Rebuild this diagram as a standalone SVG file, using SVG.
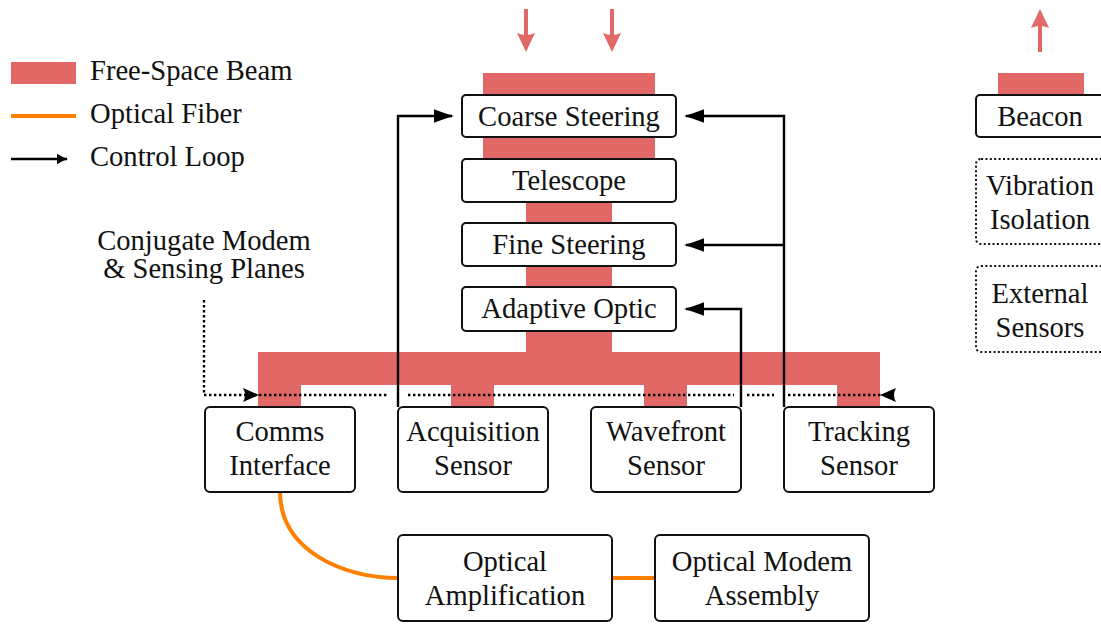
<svg xmlns="http://www.w3.org/2000/svg" width="1101" height="624" viewBox="0 0 1101 624">
<defs>
<style>
text{font-family:"Liberation Serif","Times New Roman",serif;font-size:28.6px;fill:#111;text-anchor:middle}
.leg{text-anchor:start}
.beam{fill:#e26868}
.box{fill:#fff;stroke:#111;stroke-width:2}
.dbox{fill:#fff;stroke:#111;stroke-width:2;stroke-dasharray:2 2.4}
.ctl{fill:none;stroke:#000;stroke-width:2.4}
.dot{fill:none;stroke:#000;stroke-width:2.4;stroke-dasharray:2.4 2.6}
.fiber{fill:none;stroke:#ff8000;stroke-width:4}
.rarr{fill:none;stroke:#e26868;stroke-width:4}
</style>
<marker id="ah" markerUnits="userSpaceOnUse" markerWidth="24" markerHeight="16" viewBox="-22 -8 24 16" refX="0" refY="0" orient="auto">
<path d="M2,0 C-5,-2 -12,-4.5 -18,-6.8 L-18,6.8 C-12,4.5 -5,2 2,0 Z" fill="#000"/>
</marker>
<marker id="ahs" markerUnits="userSpaceOnUse" markerWidth="16" markerHeight="14" viewBox="-14 -7 16 14" refX="0" refY="0" orient="auto">
<path d="M1,0 C-4,-1.5 -7,-3.5 -10,-5.2 L-10,5.2 C-7,3.5 -4,1.5 1,0 Z" fill="#000"/>
</marker>
</defs>

<g id="legend">
<rect class="beam" x="11" y="62" width="65" height="22"/>
<text class="leg" x="90" y="80">Free-Space Beam</text>
<line class="fiber" x1="11" y1="116" x2="76" y2="116"/>
<text class="leg" x="90" y="123">Optical Fiber</text>
<line x1="11" y1="159" x2="67" y2="159" stroke="#000" stroke-width="2.6" marker-end="url(#ahs)"/>
<text class="leg" x="90" y="166">Control Loop</text>
</g>

<g id="beams">
<line class="rarr" x1="526" y1="9" x2="526" y2="36"/>
<path class="beam" d="M526,52 L517,33 Q526,37 535,33 Z"/>
<line class="rarr" x1="612" y1="9" x2="612" y2="36"/>
<path class="beam" d="M612,52 L603,33 Q612,37 621,33 Z"/>
<line class="rarr" x1="1040" y1="52" x2="1040" y2="25"/>
<path class="beam" d="M1040,9 L1031,28 Q1040,24 1049,28 Z"/>
<rect class="beam" x="483" y="73" width="172" height="88"/>
<rect class="beam" x="526" y="200" width="86" height="154"/>
<rect class="beam" x="258" y="352" width="622" height="33"/>
<rect class="beam" x="258" y="384" width="43" height="24"/>
<rect class="beam" x="451" y="384" width="43" height="24"/>
<rect class="beam" x="644" y="384" width="43" height="24"/>
<rect class="beam" x="837" y="384" width="43" height="24"/>
<rect class="beam" x="998" y="73" width="86" height="23"/>
</g>

<g id="conjugate">
<text x="204" y="250">Conjugate Modem</text>
<text x="204" y="278">&amp; Sensing Planes</text>
</g>

<g id="connectors">
<path class="dot" d="M204,300 V395 H388"/>
<path class="dot" d="M408,395 H734"/>
<path class="dot" d="M747,395 H774"/>
<path class="dot" d="M788,395 H882"/>
<path d="M259,395 L243,388 Q247,395 243,402 Z" fill="#000"/>
<path d="M880,395 L896,388 Q892,395 896,402 Z" fill="#000"/>
<path class="ctl" d="M398,407 V116 H452" marker-end="url(#ah)"/>
<path class="ctl" d="M784,407 V116 H686" marker-end="url(#ah)"/>
<path class="ctl" d="M784,245 H686" marker-end="url(#ah)"/>
<path class="ctl" d="M741,407 V309 H686" marker-end="url(#ah)"/>
<path class="fiber" d="M280,492 C280,549 341,578 398,578"/>
<line class="fiber" x1="612" y1="578" x2="655" y2="578"/>
</g>

<g id="coarse"><rect class="box" x="462" y="95" width="214" height="42" rx="4"/><text x="569" y="126">Coarse Steering</text></g>
<g id="telescope"><rect class="box" x="462" y="159" width="214" height="43" rx="4"/><text x="569" y="190">Telescope</text></g>
<g id="fine"><rect class="box" x="462" y="223" width="214" height="43" rx="4"/><text x="569" y="254">Fine Steering</text></g>
<g id="adaptive"><rect class="box" x="462" y="287" width="214" height="44" rx="4"/><text x="569" y="318">Adaptive Optic</text></g>

<g id="comms"><rect class="box" x="205" y="407" width="150" height="85" rx="5"/><text x="280" y="441">Comms</text><text x="280" y="475">Interface</text></g>
<g id="acquisition"><rect class="box" x="398" y="407" width="150" height="85" rx="5"/><text x="473" y="441">Acquisition</text><text x="473" y="475">Sensor</text></g>
<g id="wavefront"><rect class="box" x="591" y="407" width="150" height="85" rx="5"/><text x="666" y="441">Wavefront</text><text x="666" y="475">Sensor</text></g>
<g id="tracking"><rect class="box" x="784" y="407" width="150" height="85" rx="5"/><text x="859" y="441">Tracking</text><text x="859" y="475">Sensor</text></g>

<g id="amplification"><rect class="box" x="398" y="535" width="214" height="86" rx="5"/><text x="505" y="571">Optical</text><text x="505" y="605">Amplification</text></g>
<g id="modem"><rect class="box" x="655" y="535" width="214" height="86" rx="5"/><text x="762" y="571">Optical Modem</text><text x="762" y="605">Assembly</text></g>

<g id="beacon"><rect class="box" x="976" y="95" width="130" height="42" rx="4"/><text x="1040" y="126">Beacon</text></g>
<g id="vibration"><rect class="dbox" x="976" y="159" width="130" height="85" rx="5"/><text x="1040" y="195">Vibration</text><text x="1040" y="229">Isolation</text></g>
<g id="external"><rect class="dbox" x="976" y="266" width="130" height="86" rx="5"/><text x="1040" y="303">External</text><text x="1040" y="337">Sensors</text></g>
</svg>
